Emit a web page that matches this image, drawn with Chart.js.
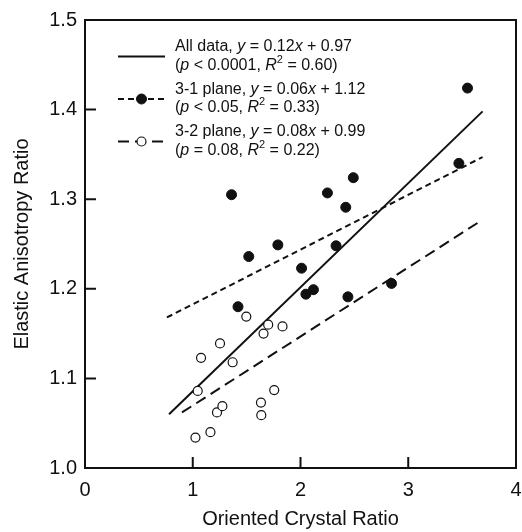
<!DOCTYPE html>
<html>
<head>
<meta charset="utf-8">
<script src="https://cdn.jsdelivr.net/npm/chart.js@4"></script>
<style>
  html, body { margin: 0; padding: 0; background: #fff; }
  #wrap { width: 522px; height: 532px; }
</style>
</head>
<body>
<div id="wrap"><canvas id="chart" width="522" height="532"></canvas></div>
<script>
// Elastic anisotropy vs oriented crystal ratio

// 3-1 plane samples (filled dots)
const plane31X = [1.36, 1.42, 1.52, 1.79, 2.01, 2.05, 2.12, 2.25, 2.33, 2.42, 2.44, 2.49, 2.845, 3.47, 3.55];
const plane31Y = [1.305, 1.180, 1.236, 1.249, 1.223, 1.194, 1.199, 1.307, 1.248, 1.291, 1.191, 1.324, 1.206, 1.340, 1.424];

// 3-2 plane samples (open dots)
const plane32X = [1.025, 1.046, 1.077, 1.164, 1.225, 1.253, 1.275, 1.37, 1.497, 1.633, 1.636, 1.657, 1.70, 1.756, 1.833];
const plane32Y = [1.034, 1.086, 1.123, 1.040, 1.062, 1.139, 1.069, 1.118, 1.169, 1.073, 1.059, 1.150, 1.160, 1.087, 1.158];

// regression line end points as drawn
const fitAllX = [0.78, 3.69];
const fitAllY = [1.060, 1.398];
const fit31X = [0.76, 3.69];
const fit31Y = [1.168, 1.347];
const fit32X = [0.90, 3.65];
const fit32Y = [1.062, 1.274];

// axis ticks
const xTicks = [0, 1, 2, 3, 4];
const yTicks = [1.0, 1.1, 1.2, 1.3, 1.4, 1.5];

// legend text, {i: ...} = italic, {sup: ...} = superscript
const legendRows = [
    [['All data, ', {i: 'y'}, ' = 0.12', {i: 'x'}, ' + 0.97'],
     ['(', {i: 'p'}, ' < 0.0001, ', {i: 'R'}, {sup: '2'}, ' = 0.60)']],
    [['3-1 plane, ', {i: 'y'}, ' = 0.06', {i: 'x'}, ' + 1.12'],
     ['(', {i: 'p'}, ' < 0.05, ', {i: 'R'}, {sup: '2'}, ' = 0.33)']],
    [['3-2 plane, ', {i: 'y'}, ' = 0.08', {i: 'x'}, ' + 0.99'],
     ['(', {i: 'p'}, ' = 0.08, ', {i: 'R'}, {sup: '2'}, ' = 0.22)']]
];

const FAMILY = "'Liberation Sans', Arial, Helvetica, sans-serif";
const INK = '#111';

const toPoints = (xs, ys) => xs.map((v, i) => ({x: v, y: ys[i]}));

function drawRich(ctx, parts, x, y) {
    parts.forEach(p => {
        let txt = p, font = '16px ' + FAMILY, dy = 0;
        if (typeof p === 'object') {
            if (p.i) { txt = p.i; font = 'italic 16px ' + FAMILY; }
            else { txt = p.sup; font = '11px ' + FAMILY; dy = -6; }
        }
        ctx.font = font;
        ctx.fillText(txt, x, y + dy);
        x += ctx.measureText(txt).width;
    });
}

// frame, inward ticks and the legend box
const frameAndLegend = {
    id: 'frameAndLegend',
    afterDraw(chart) {
        const {ctx, chartArea: a, scales} = chart;
        const sx = scales.x, sy = scales.y;
        ctx.save();
        ctx.strokeStyle = INK;
        ctx.lineWidth = 2;
        ctx.setLineDash([]);
        ctx.strokeRect(a.left, a.top, a.right - a.left, a.bottom - a.top);
        ctx.beginPath();
        sx.ticks.forEach(t => {
            const px = sx.getPixelForValue(t.value);
            ctx.moveTo(px, a.bottom);
            ctx.lineTo(px, a.bottom - 11);
        });
        sy.ticks.forEach(t => {
            const py = sy.getPixelForValue(t.value);
            ctx.moveTo(a.left, py);
            ctx.lineTo(a.left + 11, py);
        });
        ctx.stroke();

        // legend
        const lineDs = [chart.data.datasets[2], chart.data.datasets[3], chart.data.datasets[4]];
        const markDs = [null, chart.data.datasets[0], chart.data.datasets[1]];
        ctx.textBaseline = 'middle';
        ctx.fillStyle = INK;
        legendRows.forEach((row, i) => {
            const y0 = a.top + 27 + i * 42.5;
            const ys = y0 + 9.5;
            const x0 = a.left + 33, x1 = a.left + 80;
            const ld = lineDs[i];
            ctx.strokeStyle = ld.borderColor;
            ctx.lineWidth = ld.borderWidth;
            ctx.setLineDash(ld.borderDash || []);
            ctx.beginPath();
            ctx.moveTo(x0, ys);
            ctx.lineTo(x1, ys);
            ctx.stroke();
            ctx.setLineDash([]);
            const md = markDs[i];
            if (md) {
                const cx = (x0 + x1) / 2;
                ctx.beginPath();
                ctx.arc(cx, ys, md.pointRadius, 0, Math.PI * 2);
                ctx.fillStyle = md.pointBackgroundColor;
                ctx.fill();
                ctx.lineWidth = md.pointBorderWidth;
                ctx.strokeStyle = md.pointBorderColor;
                ctx.stroke();
            }
            ctx.fillStyle = INK;
            drawRich(ctx, row[0], a.left + 90, y0);
            drawRich(ctx, row[1], a.left + 90, y0 + 18.5);
        });
        ctx.restore();
    }
};

new Chart(document.getElementById('chart'), {
    type: 'scatter',
    data: {
        datasets: [
            {
                label: '3-1 plane',
                data: toPoints(plane31X, plane31Y),
                pointRadius: 5,
                pointBackgroundColor: INK,
                pointBorderColor: INK,
                pointBorderWidth: 1
            },
            {
                label: '3-2 plane',
                data: toPoints(plane32X, plane32Y),
                pointRadius: 4.5,
                pointBackgroundColor: '#fff',
                pointBorderColor: INK,
                pointBorderWidth: 1.2
            },
            {
                label: 'All data fit',
                data: toPoints(fitAllX, fitAllY),
                showLine: true,
                pointRadius: 0,
                borderColor: INK,
                borderWidth: 2
            },
            {
                label: '3-1 fit',
                data: toPoints(fit31X, fit31Y),
                showLine: true,
                pointRadius: 0,
                borderColor: INK,
                borderWidth: 2,
                borderDash: [6, 4]
            },
            {
                label: '3-2 fit',
                data: toPoints(fit32X, fit32Y),
                showLine: true,
                pointRadius: 0,
                borderColor: INK,
                borderWidth: 2,
                borderDash: [11, 6]
            }
        ]
    },
    options: {
        responsive: false,
        animation: false,
        devicePixelRatio: 1,
        layout: { padding: { top: 18, right: 5, left: 0, bottom: 0 } },
        plugins: {
            legend: { display: false },
            tooltip: { enabled: false }
        },
        scales: {
            x: {
                type: 'linear',
                min: xTicks[0],
                max: xTicks[xTicks.length - 1],
                afterBuildTicks: s => { s.ticks = xTicks.map(v => ({value: v})); },
                afterFit: s => { s.height = 64; s.paddingRight = 0; s.paddingLeft = 0; },
                grid: { display: false, drawTicks: false },
                border: { display: false },
                ticks: {
                    padding: 10,
                    color: INK,
                    font: { family: FAMILY, size: 20 },
                    callback: v => String(v)
                },
                title: {
                    display: true,
                    text: 'Oriented Crystal Ratio',
                    color: INK,
                    font: { family: FAMILY, size: 20 },
                    padding: { top: 0, bottom: 1 }
                }
            },
            y: {
                type: 'linear',
                min: yTicks[0],
                max: yTicks[yTicks.length - 1],
                afterBuildTicks: s => { s.ticks = yTicks.map(v => ({value: v})); },
                afterFit: s => { s.width = 85; },
                grid: { display: false, drawTicks: false },
                border: { display: false },
                ticks: {
                    padding: 8,
                    color: INK,
                    font: { family: FAMILY, size: 20 },
                    callback: v => Number(v).toFixed(1)
                },
                title: {
                    display: true,
                    text: 'Elastic Anisotropy Ratio',
                    color: INK,
                    font: { family: FAMILY, size: 20 },
                    padding: { top: 10, bottom: 0 }
                }
            }
        }
    },
    plugins: [frameAndLegend]
});
</script>
</body>
</html>
